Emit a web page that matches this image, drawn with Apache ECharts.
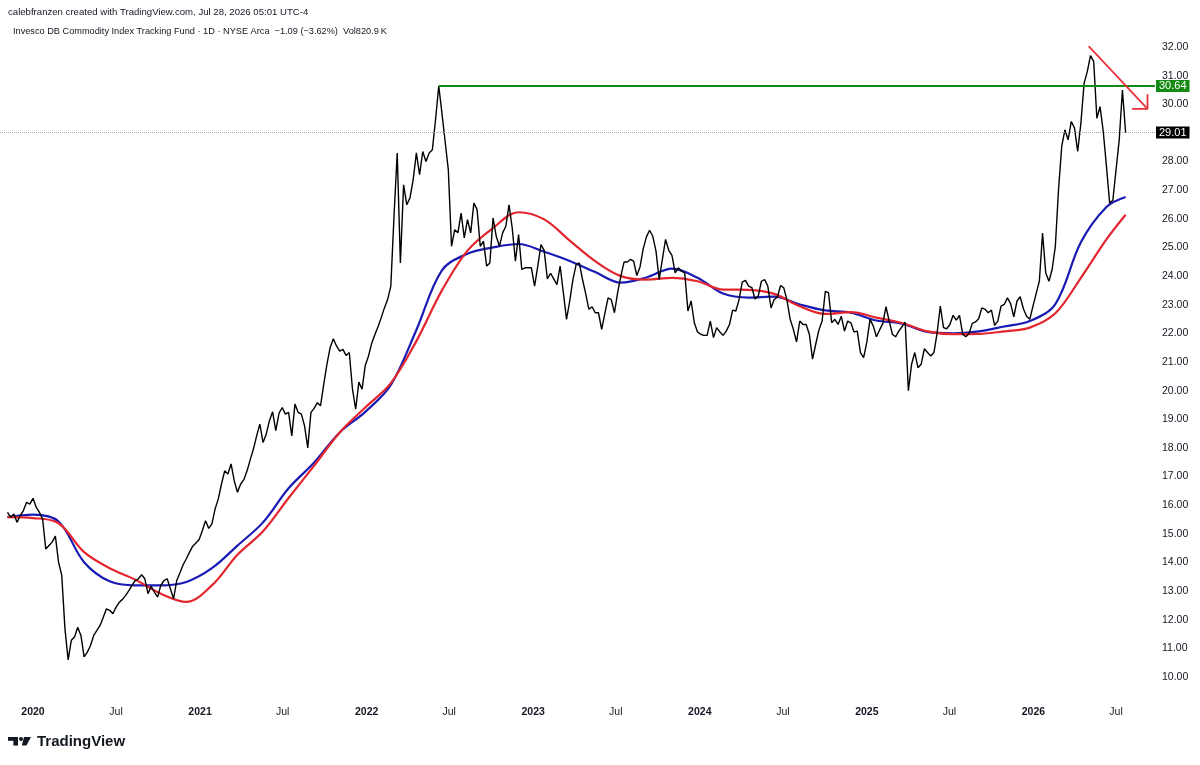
<!DOCTYPE html>
<html>
<head>
<meta charset="utf-8">
<title>DBC daily</title>
<script src="https://cdn.jsdelivr.net/npm/echarts@6/dist/echarts.min.js"></script>
<style>
  html, body { margin: 0; padding: 0; background: #fff; }
  #chart { width: 1200px; height: 765px; }
</style>
</head>
<body>
<div id="chart"></div>
<script>
const FONT = '"Liberation Sans", Arial, sans-serif';
const DAY = 86400000;

// weekly closes, first week = 2019-11-06
const firstWeek = Date.UTC(2019, 10, 6);
const closes = [
  15.75, 15.58, 15.69, 15.40, 15.64, 15.81, 16.10, 16.04, 16.24, 15.93,
  15.75, 15.52, 14.47, 14.59, 14.71, 14.92, 14.01, 13.55, 11.69, 10.60,
  11.28, 11.40, 11.74, 11.45, 10.70, 10.87, 11.10, 11.45, 11.63, 11.80,
  12.09, 12.38, 12.33, 12.21, 12.44, 12.61, 12.71, 12.85, 13.02, 13.20,
  13.37, 13.43, 13.57, 13.43, 12.91, 13.17, 12.96, 12.79, 13.20, 13.37,
  13.43, 13.08, 12.73, 13.37, 13.64, 13.92, 14.13, 14.36, 14.57, 14.68,
  14.80, 15.11, 15.46, 15.19, 15.35, 15.87, 16.22, 16.74, 17.20, 17.09,
  17.44, 16.85, 16.45, 16.74, 16.89, 17.20, 17.59, 17.96, 18.42, 18.83,
  18.19, 18.48, 18.95, 19.26, 18.60, 19.21, 19.41, 19.18, 19.24, 18.42,
  19.53, 19.24, 19.18, 18.77, 18.00, 19.24, 19.38, 19.58, 19.47, 20.22,
  20.92, 21.50, 21.81, 21.56, 21.38, 21.44, 21.23, 21.33, 20.05, 19.35,
  20.30, 20.05, 20.88, 21.20, 21.65, 21.95, 22.23, 22.55, 22.89, 23.18,
  23.65, 26.09, 28.30, 24.46, 27.19, 26.49, 26.73, 27.37, 28.30, 27.54,
  28.35, 28.00, 28.30, 28.41, 29.46, 30.64, 29.69, 28.70, 27.71, 25.04,
  25.62, 25.51, 26.20, 25.33, 25.97, 25.51, 26.55, 26.32, 25.04, 25.22,
  24.35, 24.46, 26.03, 25.39, 25.04, 25.51, 25.74, 26.49, 25.68, 24.52,
  25.45, 24.23, 24.29, 24.29, 24.29, 23.65, 24.35, 25.10, 24.90, 23.90,
  24.10, 23.90, 23.70, 24.35, 23.42, 22.49, 23.13, 23.88, 24.40, 24.46,
  23.88, 23.39, 22.84, 22.93, 22.72, 22.72, 22.14, 22.70, 23.24, 23.18,
  22.72, 23.42, 24.00, 24.49, 24.49, 24.58, 24.52, 24.02, 24.32, 24.95,
  25.37, 25.60, 25.39, 24.87, 23.88, 24.58, 25.28, 24.90, 24.72, 24.11,
  24.29, 24.17, 24.11, 22.78, 23.13, 22.37, 22.05, 21.97, 21.93, 21.93,
  22.43, 21.85, 22.20, 22.05, 21.93, 22.08, 22.31, 22.81, 22.78, 23.18,
  23.79, 23.85, 23.65, 23.60, 23.20, 23.30, 23.82, 23.88, 23.65, 22.89,
  23.18, 23.27, 23.67, 23.59, 23.16, 22.49, 22.14, 21.70, 22.43, 22.31,
  22.31, 21.97, 21.10, 21.62, 22.12, 22.43, 23.47, 23.42, 22.37, 22.49,
  22.31, 22.60, 22.08, 22.43, 22.37, 22.05, 22.08, 21.33, 21.15, 21.70,
  22.49, 22.26, 21.88, 22.12, 22.35, 22.93, 22.43, 21.97, 21.88, 22.08,
  22.23, 22.39, 20.00, 20.92, 21.33, 20.80, 20.92, 21.46, 21.33, 21.21,
  21.33, 22.02, 22.95, 22.20, 22.16, 22.31, 22.63, 22.46, 22.63, 21.97,
  21.88, 22.00, 22.35, 22.40, 22.51, 22.89, 22.84, 22.72, 22.81, 22.28,
  22.43, 22.95, 23.01, 23.24, 23.04, 22.58, 23.13, 23.28, 22.86, 22.60,
  22.49, 22.95, 23.39, 23.83, 25.50, 24.11, 23.82, 24.23, 25.04, 27.02,
  28.53, 29.11, 28.76, 29.40, 29.17, 28.35, 29.34, 30.73, 31.14, 31.70,
  31.50, 29.51, 29.92, 29.05, 27.83, 26.55, 26.65, 27.71, 28.76, 30.50,
  29.01
];

// moving averages read every 8 weeks, last point at the final week
const maStepWeeks = 8;
const blueMA = [
  15.58, 15.67, 15.43, 14.01, 13.34, 13.20, 13.20, 13.32, 13.80, 14.59,
  15.40, 16.59, 17.49, 18.54, 19.26, 20.20, 22.12, 24.20, 24.78, 25.00,
  25.12, 24.85, 24.53, 24.14, 23.77, 23.95, 24.26, 23.94, 23.39, 23.25,
  23.28, 23.01, 22.80, 22.72, 22.45, 22.34, 22.05, 22.00, 22.07, 22.24,
  22.43, 23.02, 25.18, 26.41, 26.76
];
const redMA = [
  15.58, 15.55, 15.37, 14.36, 13.80, 13.40, 12.91, 12.62, 13.20, 14.27,
  15.09, 16.25, 17.38, 18.54, 19.41, 20.26, 21.73, 23.50, 24.89, 25.68,
  26.23, 25.98, 25.24, 24.52, 24.00, 23.88, 23.94, 23.82, 23.53, 23.52,
  23.38, 22.95, 22.68, 22.74, 22.55, 22.36, 22.07, 21.97, 21.98, 22.07,
  22.20, 22.70, 23.94, 25.28, 26.14
];

const xTicks = [
  '2020-01-01', '2020-07-01', '2021-01-01', '2021-07-01', '2022-01-01', '2022-07-01',
  '2023-01-01', '2023-07-01', '2024-01-01', '2024-07-01', '2025-01-01', '2025-07-01',
  '2026-01-01', '2026-07-01'
];

const resistance = 30.64;
const resistanceFromWeek = 135;

// hand-drawn arrow (date, price)
const arrowShaft = [['2026-05-02', 32.03], ['2026-09-08', 29.84]];
const arrowHead = [['2026-08-05', 29.84], ['2026-09-08', 29.84], ['2026-09-08', 30.35]];

const GREEN = '#138a13';
const BLUE = '#1a1ab4';
const RED = '#e3262e';

// axis span chosen so 2020-01-01 lands at x=33 and 1 year = 166.7px
const JAN_2020 = Date.UTC(2020, 0, 1);
const PX_PER_DAY = 166.7 / 365.25;
const xMin = JAN_2020 - 33 / PX_PER_DAY * DAY;
const xMax = JAN_2020 + (1155 - 33) / PX_PER_DAY * DAY;

const weekDates = closes.map((_, i) => firstWeek + i * 7 * DAY);
const maDates = blueMA.map((_, k) =>
  k === blueMA.length - 1 ? weekDates[weekDates.length - 1] : firstWeek + k * maStepWeeks * 7 * DAY);

const toPts = (arr) => arr.map(p => [Date.parse(p[0]), p[1]]);

function endBox(bg, value) {
  return {
    show: true,
    position: 'end',
    distance: 1,
    formatter: value.toFixed(2),
    backgroundColor: bg,
    color: '#fff',
    fontFamily: FONT,
    fontSize: 11,
    lineHeight: 11,
    padding: [1, 3, 0, 3]
  };
}

const chart = echarts.init(document.getElementById('chart'));

const lastClose = closes[closes.length - 1];
const lastBlue = blueMA[blueMA.length - 1];
const lastRed = redMA[redMA.length - 1];

chart.setOption({
  animation: false,
  backgroundColor: '#fff',
  grid: { left: 0, right: 45, top: 47, bottom: 88 },
  xAxis: {
    // timestamps on a plain value axis so the tick labels can be placed by hand
    type: 'value',
    min: xMin,
    max: xMax,
    axisLine: { show: false },
    axisTick: { show: false },
    splitLine: { show: false },
    axisLabel: {
      customValues: xTicks.map(d => Date.parse(d)),
      margin: 30,
      color: '#131722',
      fontFamily: FONT,
      fontSize: 10.5,
      formatter: function (val) {
        const d = new Date(val);
        return d.getUTCMonth() === 0 ? '{y|' + d.getUTCFullYear() + '}' : 'Jul';
      },
      rich: { y: { fontWeight: 'bold', fontSize: 10.5, fontFamily: FONT, color: '#131722' } }
    }
  },
  yAxis: {
    type: 'value',
    position: 'right',
    min: 10,
    max: 32,
    interval: 1,
    axisLine: { show: false },
    axisTick: { show: false },
    splitLine: { show: false },
    axisLabel: {
      margin: 7,
      color: '#131722',
      fontFamily: FONT,
      fontSize: 10.5,
      formatter: v => v.toFixed(2)
    }
  },
  series: [
    {
      name: 'DBC',
      type: 'line',
      data: weekDates.map((t, i) => [t, closes[i]]),
      showSymbol: false,
      lineStyle: { color: '#000', width: 1.4 },
      z: 4,
      markLine: {
        silent: true,
        symbol: 'none',
        animation: false,
        data: [
          {
            yAxis: lastClose,
            lineStyle: { color: '#a3a6ae', width: 1, type: 'dotted' },
            label: endBox('#000', lastClose)
          },
          [
            { coord: [weekDates[resistanceFromWeek], resistance] },
            {
              coord: [xMax, resistance],
              lineStyle: { color: GREEN, width: 2, type: 'solid' },
              label: endBox(GREEN, resistance)
            }
          ]
        ]
      }
    },
    {
      name: 'MA fast',
      type: 'line',
      data: maDates.map((t, i) => [t, blueMA[i]]),
      smooth: 0.35,
      showSymbol: false,
      lineStyle: { color: BLUE, width: 2.2 },
      z: 3,
      markLine: {
        silent: true,
        symbol: 'none',
        data: [{ yAxis: lastBlue, lineStyle: { opacity: 0 }, label: endBox(BLUE, lastBlue) }]
      }
    },
    {
      name: 'MA slow',
      type: 'line',
      data: maDates.map((t, i) => [t, redMA[i]]),
      smooth: 0.35,
      showSymbol: false,
      lineStyle: { color: RED, width: 2.2 },
      z: 3,
      markLine: {
        silent: true,
        symbol: 'none',
        data: [{ yAxis: lastRed, lineStyle: { opacity: 0 }, label: endBox(RED, lastRed) }]
      }
    },
    {
      name: 'arrow',
      type: 'line',
      data: toPts(arrowShaft),
      showSymbol: false,
      lineStyle: { color: '#e8323a', width: 1.8 },
      z: 5
    },
    {
      name: 'arrow head',
      type: 'line',
      data: toPts(arrowHead),
      showSymbol: false,
      lineStyle: { color: '#e8323a', width: 1.8 },
      z: 5
    }
  ],
  graphic: [
    {
      type: 'text', left: 8, top: 7,
      style: { text: 'calebfranzen created with TradingView.com, Jul 28, 2026 05:01 UTC-4', fontSize: 9.6, fontFamily: FONT, fill: '#131722' }
    },
    {
      type: 'text', left: 13, top: 27,
      style: { text: 'Invesco DB Commodity Index Tracking Fund \u00b7 1D \u00b7 NYSE Arca  \u22121.09 (\u22123.62%)  Vol820.9\u2009K', fontSize: 9.2, fontFamily: FONT, fill: '#131722' }
    },
    { type: 'rect', shape: { x: 8, y: 737, width: 10, height: 3.8 }, style: { fill: '#131722' } },
    { type: 'rect', shape: { x: 13.4, y: 737, width: 4.6, height: 8.6 }, style: { fill: '#131722' } },
    { type: 'circle', shape: { cx: 21, cy: 739, r: 2 }, style: { fill: '#131722' } },
    { type: 'polygon', shape: { points: [[24, 737], [31, 737], [26.4, 745.6], [21.8, 745.6]] }, style: { fill: '#131722' } },
    {
      type: 'text', left: 37, top: 734,
      style: { text: 'TradingView', fontSize: 15, fontWeight: 'bold', fontFamily: FONT, fill: '#131722' }
    }
  ]
});
</script>
</body>
</html>
